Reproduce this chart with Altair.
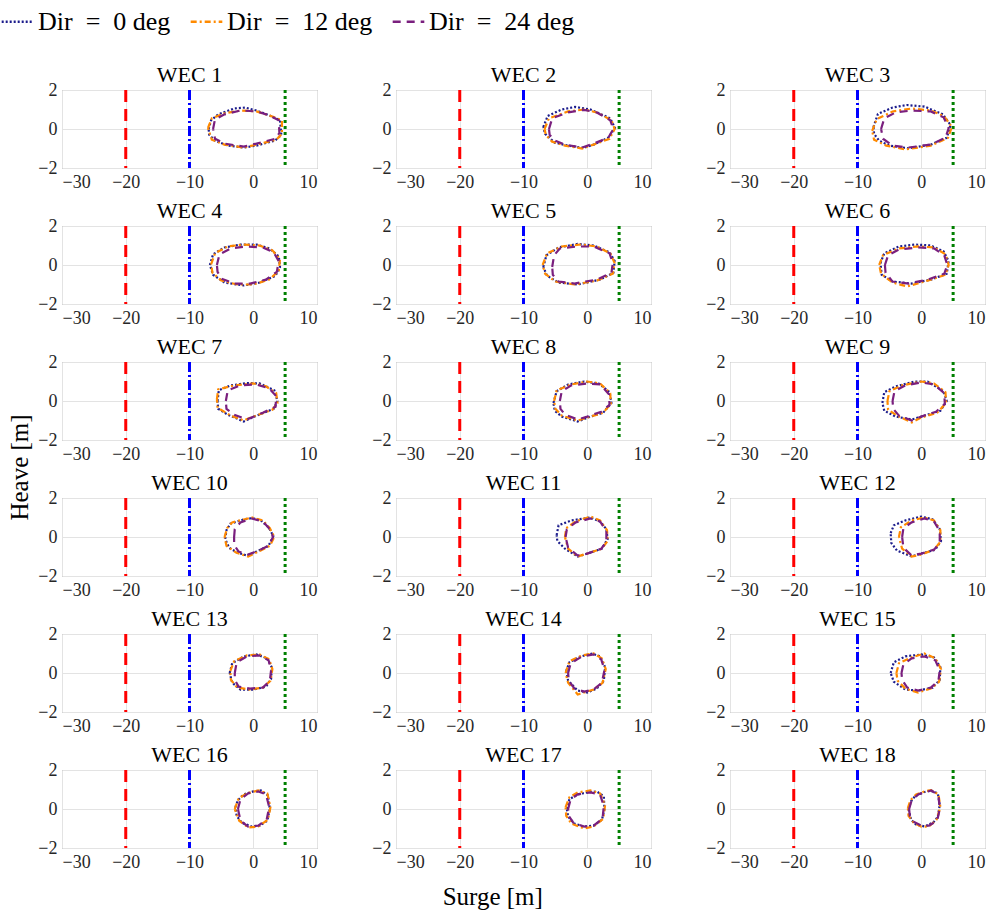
import altair as alt
import pandas as pd

FONT = "Liberation Serif"

# Wave directions (legend entries) and their line styles
directions = ["Dir\u2002=\u20020 deg", "Dir\u2002=\u200212 deg", "Dir\u2002=\u200224 deg"]
dir_colors = ["#1c1c8c", "#ff8a00", "#7a1f7e"]
dir_dashes = [[2, 2], [6, 3, 2, 3], [8, 6]]

# Surge limits drawn as vertical lines in every panel
limit_surge = [-20, -10, 5]
limit_colors = ["#ff0000", "#0000ff", "#008000"]
limit_dashes = [[12, 7], [10, 3, 2, 3], [3, 3]]

x_ticks = [-30, -20, -10, 0, 10]
y_ticks = [-2, 0, 2]

# Motion envelopes (surge [m], heave [m]) per WEC and wave direction
wec01_d00 = [(-7.0, 0.0), (-6.6, 0.45), (-5.5, 0.75), (-3.0, 1.05), (-1.3, 1.1), (0.5, 0.95), (2.5, 0.7), (4.2, 0.45), (4.4, -0.3), (3.4, -0.6), (0.5, -0.85), (-1.5, -0.95), (-4.0, -0.85), (-6.0, -0.6), (-6.9, -0.3)]
wec01_d12 = [(-7.1, 0.05), (-6.5, 0.55), (-4.5, 0.8), (-2.0, 0.95), (0.5, 0.9), (2.5, 0.7), (4.5, 0.45), (4.5, -0.25), (3.6, -0.55), (0.5, -0.8), (-1.5, -0.95), (-4.5, -0.8), (-6.5, -0.55)]
wec01_d24 = [(-6.3, 0.0), (-6.0, 0.5), (-4.5, 0.75), (-2.0, 0.95), (0.5, 0.9), (2.5, 0.7), (4.0, 0.45), (4.1, -0.2), (3.5, -0.5), (0.5, -0.75), (-1.5, -0.9), (-4.5, -0.75), (-6.0, -0.5)]

wec02_d00 = [(-6.9, 0.1), (-6.2, 0.67), (-4.0, 1.0), (-1.9, 1.13), (0.5, 1.0), (3.6, 0.55), (4.35, 0.05), (3.3, -0.45), (1.0, -0.8), (-0.6, -0.97), (-3.0, -0.85), (-5.1, -0.7), (-6.6, -0.25)]
wec02_d12 = [(-6.7, 0.0), (-6.0, 0.55), (-3.0, 0.9), (-0.5, 1.0), (1.5, 0.85), (3.8, 0.45), (4.3, 0.0), (3.5, -0.5), (1.0, -0.8), (-0.8, -1.0), (-3.5, -0.85), (-5.5, -0.65), (-6.5, -0.3)]
wec02_d24 = [(-6.0, 0.0), (-5.5, 0.55), (-3.0, 0.85), (-0.5, 0.98), (1.5, 0.85), (3.6, 0.45), (4.1, 0.0), (3.3, -0.45), (1.0, -0.75), (-0.8, -0.95), (-3.5, -0.8), (-5.0, -0.6), (-5.9, -0.3)]

wec03_d00 = [(-7.5, 0.1), (-6.8, 0.77), (-4.5, 1.1), (-2.3, 1.23), (0.5, 1.15), (3.4, 0.75), (4.6, 0.2), (4.0, -0.45), (1.5, -0.8), (-2.1, -0.99), (-5.0, -0.85), (-6.6, -0.6), (-7.4, -0.25)]
wec03_d12 = [(-7.7, -0.1), (-7.0, 0.5), (-4.5, 0.9), (-1.5, 1.05), (1.5, 0.95), (3.6, 0.65), (4.8, 0.1), (4.2, -0.45), (1.5, -0.85), (-2.5, -1.05), (-5.5, -0.85), (-7.4, -0.55)]
wec03_d24 = [(-6.3, 0.0), (-5.8, 0.55), (-4.0, 0.85), (-1.5, 0.95), (1.5, 0.9), (3.5, 0.6), (4.3, 0.05), (3.8, -0.45), (1.5, -0.8), (-2.0, -0.95), (-4.5, -0.85), (-6.0, -0.5)]

wec04_d00 = [(-6.8, 0.0), (-6.3, 0.55), (-4.5, 0.9), (-2.0, 1.05), (0.5, 1.05), (2.5, 0.85), (4.0, 0.45), (4.2, -0.1), (3.5, -0.55), (1.0, -0.9), (-1.5, -1.05), (-4.5, -0.9), (-6.3, -0.5)]
wec04_d12 = [(-6.6, 0.05), (-6.0, 0.6), (-4.0, 0.95), (-1.5, 1.05), (1.0, 1.0), (3.0, 0.75), (4.2, 0.3), (4.0, -0.3), (2.5, -0.75), (0.0, -1.0), (-2.5, -1.0), (-5.0, -0.8), (-6.4, -0.4)]
wec04_d24 = [(-5.7, 0.0), (-5.3, 0.55), (-3.5, 0.85), (-1.0, 0.95), (1.5, 0.9), (3.2, 0.65), (4.0, 0.2), (3.7, -0.35), (2.0, -0.75), (-0.5, -0.95), (-3.0, -0.95), (-5.0, -0.7), (-5.6, -0.35)]

wec05_d00 = [(-6.9, -0.1), (-6.4, 0.5), (-4.5, 0.9), (-1.5, 1.08), (1.0, 1.0), (3.5, 0.65), (4.3, 0.2), (4.1, -0.4), (2.0, -0.75), (-1.5, -1.0), (-4.5, -0.9), (-6.3, -0.55)]
wec05_d12 = [(-7.0, 0.0), (-6.3, 0.6), (-4.0, 0.95), (-1.0, 1.05), (1.5, 0.95), (3.6, 0.6), (4.3, 0.1), (4.0, -0.45), (1.5, -0.8), (-2.0, -1.0), (-5.0, -0.85), (-6.6, -0.45)]
wec05_d24 = [(-5.5, -0.1), (-5.2, 0.5), (-4.3, 0.85), (-1.5, 0.95), (1.0, 0.95), (3.5, 0.6), (4.0, 0.1), (3.8, -0.4), (1.5, -0.75), (-2.0, -0.95), (-4.5, -0.85), (-5.4, -0.5)]

wec06_d00 = [(-6.4, 0.1), (-5.8, 0.6), (-3.5, 0.95), (-1.0, 1.05), (1.5, 1.0), (3.5, 0.7), (4.3, 0.2), (4.0, -0.45), (1.5, -0.75), (-1.5, -0.95), (-4.5, -0.85), (-6.2, -0.5)]
wec06_d12 = [(-6.6, 0.0), (-6.0, 0.5), (-3.5, 0.85), (-0.5, 0.95), (2.0, 0.9), (3.8, 0.55), (4.3, 0.0), (3.8, -0.5), (1.0, -0.8), (-2.2, -1.1), (-4.5, -0.9), (-6.3, -0.45)]
wec06_d24 = [(-5.7, 0.0), (-5.2, 0.5), (-3.5, 0.8), (-0.5, 0.9), (2.0, 0.85), (3.6, 0.5), (4.1, 0.0), (3.6, -0.45), (1.0, -0.75), (-2.0, -0.95), (-4.5, -0.85), (-5.6, -0.4)]

wec07_d00 = [(-5.6, 0.0), (-5.4, 0.55), (-3.5, 0.8), (-1.0, 0.92), (1.0, 0.9), (3.3, 0.55), (3.8, 0.0), (3.2, -0.4), (0.5, -0.75), (-1.5, -1.05), (-4.0, -0.7), (-5.5, -0.4)]
wec07_d12 = [(-5.7, 0.1), (-5.5, 0.6), (-3.0, 0.8), (0.0, 0.9), (2.0, 0.75), (3.6, 0.4), (3.8, -0.1), (3.0, -0.45), (0.0, -0.8), (-1.5, -1.0), (-3.5, -0.75), (-5.6, -0.35)]
wec07_d24 = [(-4.3, 0.0), (-4.0, 0.55), (-2.0, 0.8), (0.5, 0.85), (2.5, 0.65), (3.6, 0.25), (3.5, -0.3), (1.5, -0.6), (-1.0, -0.95), (-3.0, -0.7), (-4.2, -0.4)]

wec08_d00 = [(-5.3, -0.1), (-4.8, 0.5), (-3.0, 0.85), (-0.5, 1.0), (1.8, 0.9), (3.5, 0.45), (3.8, -0.1), (2.5, -0.6), (0.5, -0.8), (-1.5, -1.05), (-4.0, -0.8), (-5.1, -0.5)]
wec08_d12 = [(-5.2, 0.0), (-4.8, 0.55), (-2.5, 0.85), (0.0, 1.0), (2.0, 0.9), (3.6, 0.4), (3.7, -0.15), (2.5, -0.6), (0.0, -0.85), (-1.5, -1.0), (-4.0, -0.75), (-5.0, -0.4)]
wec08_d24 = [(-4.3, 0.0), (-4.0, 0.5), (-2.5, 0.8), (0.0, 0.9), (2.0, 0.85), (3.4, 0.35), (3.5, -0.2), (2.2, -0.55), (0.0, -0.8), (-1.5, -0.95), (-3.5, -0.7), (-4.2, -0.4)]

wec09_d00 = [(-6.1, -0.1), (-5.8, 0.45), (-4.0, 0.75), (-1.0, 1.0), (1.0, 1.0), (3.5, 0.5), (4.0, 0.0), (3.0, -0.5), (0.5, -0.75), (-1.5, -0.95), (-4.0, -0.8), (-5.8, -0.5)]
wec09_d12 = [(-5.3, 0.0), (-5.0, 0.5), (-3.0, 0.8), (0.0, 1.0), (2.0, 0.9), (3.8, 0.45), (3.9, -0.1), (2.5, -0.6), (0.0, -0.85), (-1.5, -1.1), (-3.5, -0.8), (-5.2, -0.45)]
wec09_d24 = [(-4.5, 0.0), (-4.2, 0.5), (-2.5, 0.8), (0.0, 0.95), (2.0, 0.85), (3.6, 0.4), (3.7, -0.15), (2.3, -0.55), (0.0, -0.8), (-1.5, -1.0), (-3.5, -0.75), (-4.4, -0.4)]

wec10_d00 = [(-4.4, -0.1), (-4.2, 0.35), (-3.6, 0.68), (-1.5, 0.9), (-0.2, 0.97), (1.2, 0.85), (2.4, 0.5), (3.15, 0.05), (2.4, -0.45), (0.5, -0.75), (-1.0, -0.95), (-2.5, -0.8), (-3.8, -0.55)]
wec10_d12 = [(-4.5, 0.0), (-4.1, 0.45), (-3.3, 0.75), (-1.5, 0.9), (-0.2, 1.0), (1.5, 0.85), (2.6, 0.45), (3.3, 0.0), (2.6, -0.45), (0.8, -0.75), (-0.8, -1.0), (-2.7, -0.8), (-4.2, -0.45)]
wec10_d24 = [(-3.0, 0.0), (-2.9, 0.4), (-2.0, 0.75), (-0.3, 0.95), (1.5, 0.8), (2.6, 0.4), (3.1, 0.0), (2.4, -0.45), (0.8, -0.7), (-0.8, -0.9), (-2.3, -0.75), (-3.0, -0.4)]

wec11_d00 = [(-4.8, 0.1), (-4.5, 0.6), (-2.5, 0.85), (0.5, 1.0), (2.0, 0.8), (3.0, 0.4), (3.2, -0.1), (2.3, -0.6), (0.0, -0.85), (-1.5, -1.0), (-3.5, -0.6), (-4.7, -0.2)]
wec11_d12 = [(-3.5, 0.0), (-3.3, 0.45), (-1.8, 0.8), (0.5, 1.05), (2.0, 0.85), (3.1, 0.35), (3.2, -0.2), (2.3, -0.6), (0.0, -0.85), (-1.5, -1.0), (-3.0, -0.6)]
wec11_d24 = [(-3.4, 0.0), (-3.2, 0.4), (-1.8, 0.75), (0.5, 0.95), (2.0, 0.8), (3.0, 0.3), (3.0, -0.25), (2.2, -0.6), (0.0, -0.85), (-1.5, -0.95), (-3.0, -0.55)]

wec12_d00 = [(-4.8, 0.2), (-4.3, 0.6), (-2.5, 0.85), (0.0, 1.05), (1.8, 0.9), (2.9, 0.4), (3.1, -0.2), (2.2, -0.65), (0.0, -0.85), (-1.5, -1.0), (-3.8, -0.7), (-4.7, -0.3)]
wec12_d12 = [(-3.5, 0.0), (-3.2, 0.5), (-1.5, 0.85), (0.5, 1.0), (2.0, 0.85), (3.0, 0.35), (3.0, -0.25), (2.0, -0.65), (0.0, -0.9), (-1.5, -1.0), (-3.0, -0.6)]
wec12_d24 = [(-3.0, 0.0), (-2.8, 0.45), (-1.5, 0.75), (0.5, 0.95), (2.0, 0.8), (2.9, 0.3), (2.9, -0.3), (2.0, -0.65), (0.0, -0.85), (-1.5, -0.95), (-2.8, -0.55)]

wec13_d00 = [(-3.7, 0.0), (-3.3, 0.5), (-1.5, 0.85), (0.5, 0.95), (2.2, 0.75), (2.9, 0.3), (2.8, -0.3), (2.0, -0.7), (0.0, -0.85), (-2.0, -0.85), (-3.3, -0.5)]
wec13_d12 = [(-3.6, 0.1), (-3.0, 0.6), (-1.0, 0.9), (1.0, 0.95), (2.5, 0.7), (3.0, 0.2), (2.7, -0.4), (1.5, -0.75), (-0.5, -0.85), (-2.5, -0.75), (-3.5, -0.35)]
wec13_d24 = [(-2.9, 0.0), (-2.6, 0.55), (-1.0, 0.85), (1.0, 0.9), (2.4, 0.65), (2.8, 0.15), (2.6, -0.4), (1.5, -0.75), (-0.5, -0.8), (-2.3, -0.7), (-2.9, -0.35)]

wec14_d00 = [(-3.3, 0.1), (-2.8, 0.55), (-1.0, 0.85), (0.8, 1.0), (2.0, 0.85), (2.8, 0.3), (2.6, -0.4), (1.5, -0.8), (0.0, -1.0), (-1.5, -0.9), (-3.0, -0.4)]
wec14_d12 = [(-3.4, 0.0), (-2.8, 0.6), (-0.8, 0.9), (1.0, 1.0), (2.3, 0.75), (2.9, 0.2), (2.4, -0.5), (1.0, -0.85), (-0.5, -1.0), (-1.5, -1.1), (-3.0, -0.5)]
wec14_d24 = [(-3.0, 0.0), (-2.6, 0.5), (-0.8, 0.85), (1.0, 0.95), (2.2, 0.7), (2.7, 0.15), (2.3, -0.5), (1.0, -0.85), (-0.5, -0.95), (-2.0, -0.8), (-2.9, -0.4)]

wec15_d00 = [(-4.8, 0.0), (-4.3, 0.55), (-2.5, 0.85), (0.0, 0.95), (2.0, 0.8), (3.0, 0.3), (2.9, -0.35), (1.8, -0.75), (-0.5, -0.9), (-2.5, -0.85), (-4.3, -0.45)]
wec15_d12 = [(-3.9, 0.0), (-3.5, 0.5), (-1.5, 0.8), (0.5, 1.0), (2.2, 0.75), (3.1, 0.2), (2.8, -0.45), (1.5, -0.8), (-0.5, -1.0), (-2.5, -0.8), (-3.7, -0.4)]
wec15_d24 = [(-3.1, 0.0), (-2.8, 0.45), (-1.5, 0.75), (0.5, 0.85), (2.2, 0.65), (2.9, 0.15), (2.7, -0.4), (1.5, -0.75), (-0.5, -0.9), (-2.2, -0.75), (-3.0, -0.35)]

wec16_d00 = [(-2.8, 0.1), (-2.4, 0.45), (-1.5, 0.75), (0.0, 0.9), (1.2, 0.95), (2.3, 0.7), (2.6, 0.0), (2.2, -0.6), (1.0, -0.85), (-0.3, -0.9), (-1.8, -0.7), (-2.6, -0.35)]
wec16_d12 = [(-2.9, 0.0), (-2.3, 0.55), (-1.0, 0.8), (0.8, 0.95), (2.2, 0.8), (2.7, 0.1), (2.3, -0.55), (0.8, -0.9), (-0.8, -0.95), (-2.2, -0.6)]
wec16_d24 = [(-2.4, 0.0), (-2.0, 0.5), (-0.8, 0.8), (0.8, 0.9), (2.0, 0.75), (2.5, 0.1), (2.1, -0.55), (0.8, -0.85), (-0.8, -0.9), (-2.0, -0.6)]

wec17_d00 = [(-3.2, 0.0), (-2.8, 0.5), (-1.5, 0.75), (0.0, 0.85), (1.5, 0.9), (2.6, 0.65), (2.7, 0.0), (2.3, -0.55), (1.0, -0.85), (-0.5, -0.9), (-2.0, -0.75), (-3.0, -0.4)]
wec17_d12 = [(-3.4, 0.1), (-2.8, 0.6), (-1.5, 0.85), (0.5, 0.95), (2.0, 0.8), (2.8, 0.2), (2.5, -0.5), (1.0, -0.9), (-0.5, -1.0), (-2.5, -0.75), (-3.3, -0.35)]
wec17_d24 = [(-3.0, 0.0), (-2.6, 0.5), (-1.5, 0.75), (0.5, 0.85), (2.0, 0.75), (2.6, 0.15), (2.4, -0.5), (1.0, -0.85), (-0.5, -0.9), (-2.2, -0.7), (-2.9, -0.35)]

wec18_d00 = [(-2.0, 0.0), (-1.6, 0.4), (-1.0, 0.65), (0.3, 0.85), (1.4, 0.95), (2.6, 0.8), (2.9, 0.2), (2.6, -0.4), (2.0, -0.65), (0.6, -0.9), (-0.8, -0.8), (-1.6, -0.55)]
wec18_d12 = [(-2.1, 0.05), (-1.7, 0.45), (-0.8, 0.75), (0.5, 0.9), (1.5, 0.97), (2.7, 0.75), (3.0, 0.1), (2.4, -0.55), (1.2, -0.9), (0.0, -0.9), (-1.2, -0.7), (-2.0, -0.35)]
wec18_d24 = [(-1.9, 0.0), (-1.5, 0.45), (-0.5, 0.75), (0.5, 0.85), (1.6, 0.95), (2.7, 0.7), (2.9, 0.0), (2.5, -0.6), (1.2, -0.85), (0.0, -0.85), (-1.2, -0.65), (-1.8, -0.35)]

envelopes = {
    1: (wec01_d00, wec01_d12, wec01_d24),
    2: (wec02_d00, wec02_d12, wec02_d24),
    3: (wec03_d00, wec03_d12, wec03_d24),
    4: (wec04_d00, wec04_d12, wec04_d24),
    5: (wec05_d00, wec05_d12, wec05_d24),
    6: (wec06_d00, wec06_d12, wec06_d24),
    7: (wec07_d00, wec07_d12, wec07_d24),
    8: (wec08_d00, wec08_d12, wec08_d24),
    9: (wec09_d00, wec09_d12, wec09_d24),
    10: (wec10_d00, wec10_d12, wec10_d24),
    11: (wec11_d00, wec11_d12, wec11_d24),
    12: (wec12_d00, wec12_d12, wec12_d24),
    13: (wec13_d00, wec13_d12, wec13_d24),
    14: (wec14_d00, wec14_d12, wec14_d24),
    15: (wec15_d00, wec15_d12, wec15_d24),
    16: (wec16_d00, wec16_d12, wec16_d24),
    17: (wec17_d00, wec17_d12, wec17_d24),
    18: (wec18_d00, wec18_d12, wec18_d24),
}

PANEL_W, PANEL_H = 255, 78

x_enc = alt.X(
    "surge:Q",
    scale=alt.Scale(domain=[-30, 10], nice=False, zero=False),
    axis=alt.Axis(values=x_ticks, title=None),
)
y_enc = alt.Y(
    "heave:Q",
    scale=alt.Scale(domain=[-2, 2], nice=False),
    axis=alt.Axis(values=y_ticks, title=None),
)

legend = alt.Legend(
    title=None,
    orient="none",
    legendX=-62,
    legendY=-86,
    direction="horizontal",
    symbolType="stroke",
    symbolSize=1000,
    symbolStrokeWidth=2.5,
    labelFont=FONT,
    labelFontSize=26,
    labelColor="#000000",
    labelLimit=400,
    columnPadding=14,
    labelOffset=3,
)


def panel(n):
    rows = []
    for d, pts in zip(directions, envelopes[n]):
        closed = list(pts) + [pts[0]]
        for k, (sx, hv) in enumerate(closed):
            rows.append({"surge": sx, "heave": hv, "dir": d, "k": k})
    df = pd.DataFrame(rows)

    layers = []
    for v, c, dsh in zip(limit_surge, limit_colors, limit_dashes):
        layers.append(
            alt.Chart(pd.DataFrame({"surge": [v]}))
            .mark_rule(color=c, strokeDash=dsh, strokeWidth=3)
            .encode(x=x_enc)
        )
    lines = (
        alt.Chart(df)
        .mark_line(strokeWidth=2.2, strokeCap="butt")
        .encode(
            x=x_enc,
            y=y_enc,
            order="k:Q",
            color=alt.Color(
                "dir:N",
                scale=alt.Scale(domain=directions, range=dir_colors),
                legend=legend,
            ),
            strokeDash=alt.StrokeDash(
                "dir:N",
                scale=alt.Scale(domain=directions, range=dir_dashes),
                legend=legend,
            ),
        )
    )
    layers.append(lines)
    return alt.layer(*layers).properties(
        width=PANEL_W,
        height=PANEL_H,
        title=alt.TitleParams(f"WEC {n}", fontSize=22, offset=-6),
    )


grid = alt.concat(
    *[panel(n) for n in range(1, 19)],
    columns=3,
    spacing={"row": 58, "column": 79},
    bounds="flush",
).properties(
    title=alt.TitleParams("Heave [m]", orient="left", anchor="middle", fontSize=25, offset=4)
)

chart = (
    alt.vconcat(grid)
    .properties(
        title=alt.TitleParams("Surge [m]", orient="bottom", anchor="middle", fontSize=25, offset=13),
        padding={"left": 0, "top": 4, "right": 4, "bottom": 4},
    )
    .resolve_scale(color="shared", strokeDash="shared")
    .configure_view(stroke="#8a8a8a", strokeWidth=1)
    .configure_axis(
        labelFont=FONT,
        labelFontSize=18,
        labelColor="#262626",
        grid=True,
        gridColor="#e3e3e3",
        domain=False,
        ticks=False,
        labelPadding=5,
    )
    .configure_title(font=FONT, fontWeight="normal", color="#000000")
)

chart.save("out.html", embed_options={"renderer": "svg", "actions": False})
